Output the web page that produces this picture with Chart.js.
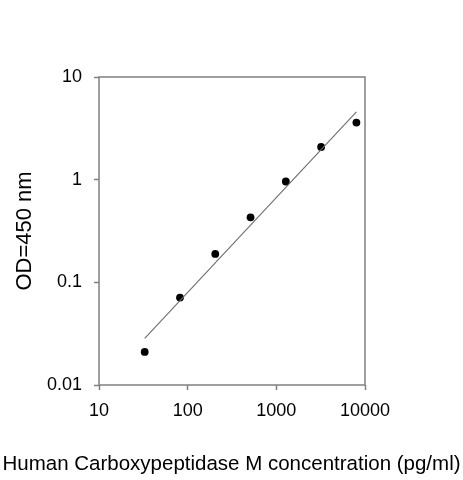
<!DOCTYPE html>
<html>
<head>
<meta charset="utf-8">
<script src="https://cdn.jsdelivr.net/npm/chart.js@4.4.1/dist/chart.umd.min.js"></script>
<style>
  html, body { margin: 0; padding: 0; background: #fff; }
  #wrap { width: 463px; height: 480px; }
</style>
</head>
<body>
<div id="wrap"><canvas id="myChart"></canvas></div>
<script>
// standard curve
var concentration = [32.77, 81.92, 204.8, 512, 1280, 3200, 8000];
var od = [0.021, 0.071, 0.189, 0.43, 0.96, 2.08, 3.6];

// fitted line end points
var fitX = [32.77, 8000];
var fitY = [0.0285, 4.58];

var xTicks = [10, 100, 1000, 10000];
var yTicks = [0.01, 0.1, 1, 10];

var axisGray = '#808080';
var fontName = '"Liberation Sans", Arial, sans-serif';

// box round the plot area
var frame = {
  id: 'frame',
  beforeDatasetsDraw: function(chart) {
    var a = chart.chartArea, ctx = chart.ctx;
    ctx.save();
    ctx.strokeStyle = axisGray;
    ctx.lineWidth = 1.5;
    ctx.strokeRect(a.left, a.top, a.right - a.left, a.bottom - a.top);
    ctx.restore();
  }
};

var ctx = document.getElementById('myChart').getContext('2d');
var chart = new Chart(ctx, {
  type: 'scatter',
  data: {
    datasets: [
      {
        type: 'line',
        data: fitX.map(function(x, i) { return {x: x, y: fitY[i]}; }),
        borderColor: '#6e6e6e',
        borderWidth: 1.1,
        pointRadius: 0,
        fill: false
      },
      {
        data: concentration.map(function(x, i) { return {x: x, y: od[i]}; }),
        backgroundColor: '#000',
        borderWidth: 0,
        pointRadius: 3.9
      }
    ]
  },
  options: {
    responsive: true,
    maintainAspectRatio: false,
    animation: false,
    layout: { padding: { top: 77, left: 0, right: 0, bottom: 0 } },
    plugins: {
      legend: { display: false },
      tooltip: { enabled: false },
      title: {
        display: true,
        position: 'bottom',
        text: 'Human Carboxypeptidase M concentration (pg/ml)',
        color: '#000',
        font: { family: fontName, size: 20.5, weight: 'normal' },
        padding: { top: 0, bottom: 3 }
      }
    },
    scales: {
      x: {
        type: 'logarithmic',
        position: 'bottom',
        min: 10,
        max: 10000,
        afterBuildTicks: function(s) { s.ticks = xTicks.map(function(v) { return {value: v}; }); },
        afterFit: function(s) { s.height = 95 - 27.6; },
        grid: { display: true, drawOnChartArea: false, drawTicks: true, tickLength: 5, tickColor: axisGray, tickWidth: 1.5 },
        border: { display: false },
        ticks: {
          padding: 10,
          maxRotation: 0,
          color: '#000',
          font: { family: fontName, size: 18 },
          callback: function(v) { return String(v); }
        }
      },
      y: {
        type: 'logarithmic',
        position: 'left',
        min: 0.01,
        max: 10,
        afterBuildTicks: function(s) { s.ticks = yTicks.map(function(v) { return {value: v}; }); },
        afterFit: function(s) { s.width = 99; },
        grid: { display: true, drawOnChartArea: false, drawTicks: true, tickLength: 5, tickColor: axisGray, tickWidth: 1.5 },
        border: { display: false },
        title: {
          display: true,
          text: 'OD=450 nm',
          color: '#000',
          font: { family: fontName, size: 22 },
          padding: { top: 12, bottom: 0 }
        },
        ticks: {
          padding: 12,
          color: '#000',
          font: { family: fontName, size: 18 },
          callback: function(v) { return String(v); }
        }
      },
      y2: {
        type: 'linear',
        position: 'right',
        afterFit: function(s) { s.width = 98; },
        grid: { display: false },
        border: { display: false },
        ticks: { display: false }
      }
    }
  },
  plugins: [frame]
});
</script>
</body>
</html>
